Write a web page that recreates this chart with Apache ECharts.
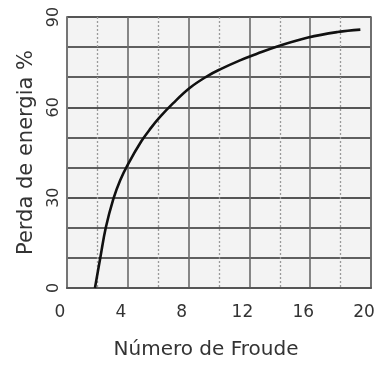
<!DOCTYPE html>
<html>
<head>
<meta charset="utf-8">
<script src="https://cdn.jsdelivr.net/npm/echarts@6/dist/echarts.min.js"></script>
<style>
html,body{margin:0;padding:0;background:#fff;}
#chart{width:382px;height:368px;}
</style>
</head>
<body>
<div id="chart"></div>
<script>
// Froude number (x) and energy loss % (y)
var froude = [1.84, 2.2, 2.55, 3.05, 3.5, 4.0, 4.9, 5.5, 6.12, 6.97, 8.09, 9.21, 10.07, 11.38, 12.5, 13.88, 15.86, 17.8, 19.3];
var energyLoss = [0, 10.3, 20.0, 29.6, 35.8, 41.0, 48.8, 53.0, 56.8, 61.3, 66.5, 70.3, 72.6, 75.6, 77.8, 80.3, 83.2, 85.0, 85.8];
var xTicks = [0, 4, 8, 12, 16, 20];
var yTicks = [0, 30, 60, 90];

var pts = froude.map(function (f, i) { return [f, energyLoss[i]]; });
var chart = echarts.init(document.getElementById('chart'), null, {renderer: 'canvas'});
var font = 'DejaVu Sans';
chart.setOption({
  animation: false,
  backgroundColor: '#ffffff',
  grid: {left: 67, right: 11, top: 17, bottom: 80, show: true, backgroundColor: '#f3f3f3', borderColor: '#666', borderWidth: 1.5},
  xAxis: {
    type: 'value', min: xTicks[0], max: xTicks[xTicks.length - 1], interval: 4,
    name: 'Número de Froude', nameLocation: 'middle', nameGap: 52,
    nameTextStyle: {fontFamily: font, fontSize: 20, color: '#333', padding: [0, 26, 0, 0]},
    axisLine: {show: true, lineStyle: {color: '#555', width: 2}},
    axisTick: {show: false},
    axisLabel: {fontFamily: font, fontSize: 17, color: '#333', margin: 16, padding: [0, 14, 0, 0]},
    splitLine: {show: true, lineStyle: {color: '#6a6a6a', width: 1.6}},
    minorTick: {show: false, splitNumber: 2},
    minorSplitLine: {show: true, lineStyle: {color: '#9a9a9a', width: 1.3, type: [2, 2]}}
  },
  yAxis: {
    type: 'value', min: yTicks[0], max: yTicks[yTicks.length - 1], interval: 30,
    name: 'Perda de energia %', nameLocation: 'middle', nameGap: 30, nameRotate: 90,
    nameTextStyle: {fontFamily: font, fontSize: 21, color: '#333'},
    axisLine: {show: true, lineStyle: {color: '#777', width: 1.5}},
    axisTick: {show: false},
    axisLabel: {fontFamily: font, fontSize: 16, color: '#333', rotate: 90, margin: 5},
    splitLine: {show: true, lineStyle: {color: '#555', width: 1.8}},
    minorTick: {show: false, splitNumber: 3},
    minorSplitLine: {show: true, lineStyle: {color: '#5f5f5f', width: 1.8}}
  },
  series: [{
    type: 'line', data: pts, smooth: 0.4, showSymbol: false,
    lineStyle: {color: '#111', width: 2.6}
  }]
});
</script>
</body>
</html>
